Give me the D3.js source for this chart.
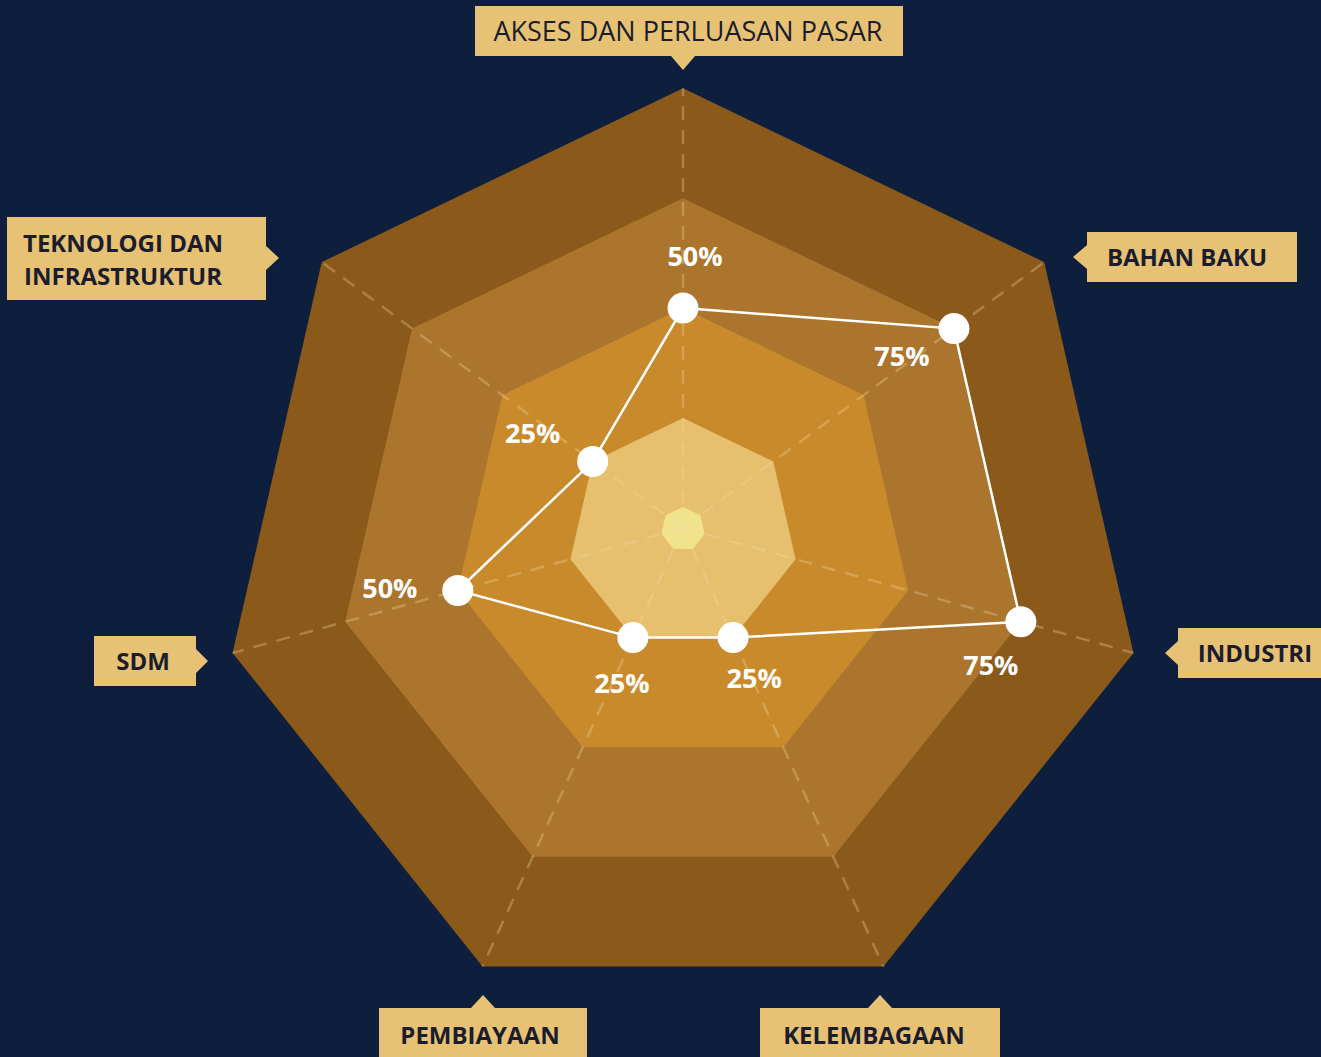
<!DOCTYPE html>
<html>
<head>
<meta charset="utf-8">
<script src="https://cdn.jsdelivr.net/npm/d3@7"></script>
<style>
  html, body { margin: 0; padding: 0; background: #0d1f3c; }
  svg { display: block; }
  .box-text { font-family: "Open Sans", sans-serif; fill: #1b1d2e; }
  .pct { font-family: "Open Sans", sans-serif; font-weight: 700; fill: #ffffff; }
</style>
</head>
<body>
<div id="radar"></div>
<script>

// data
var categories = ["AKSES DAN PERLUASAN PASAR", "BAHAN BAKU", "INDUSTRI", "KELEMBAGAAN",
                  "PEMBIAYAAN", "SDM", "TEKNOLOGI DAN INFRASTRUKTUR"];
var values = [0.50, 0.75, 0.75, 0.25, 0.25, 0.50, 0.25];
var valueLabels = ["50%", "75%", "75%", "25%", "25%", "50%", "25%"];
var ringLevels = [1, 0.75, 0.5, 0.25, 0.048];

var width = 1321, height = 1057;
var cx = 683, cy = 528;
var tilt = 0.048;   // the rings sag a little towards the bottom

var ringColors = ["#8b5a1b", "#ab752e", "#c98a2c", "#e6bf6f", "#f0e38c"];

var svg = d3.select("#radar")
  .append("svg")
    .attr("width", width)
    .attr("height", height);

svg.append("rect")
  .attr("width", width)
  .attr("height", height)
  .attr("fill", "#0d1f3c");

// scales
var angle = d3.scaleLinear()
  .domain([0, categories.length])
  .range([-Math.PI / 2, 3 * Math.PI / 2]);

var r = d3.scaleLinear()
  .domain([0, 1])
  .range([0, 462]);

function project(i, v) {
  var a = angle(i), rr = r(v);
  return [cx + rr * Math.cos(a), cy + rr * Math.sin(a) + rr * tilt];
}

var line = d3.line();

// rings
svg.append("g").selectAll("path")
  .data(ringLevels)
  .enter().append("path")
    .attr("d", function(lv) {
      return line(categories.map(function(c, i) { return project(i, lv); })) + "Z";
    })
    .attr("fill", function(lv, i) { return ringColors[i]; });

// dashed axes
svg.append("g").selectAll("line")
  .data(categories)
  .enter().append("line")
    .attr("x1", function(c, i) { return project(i, 0)[0]; })
    .attr("y1", function(c, i) { return project(i, 0)[1]; })
    .attr("x2", function(c, i) { return project(i, 1)[0]; })
    .attr("y2", function(c, i) { return project(i, 1)[1]; })
    .attr("stroke", "#f6deaa")
    .attr("stroke-opacity", 0.3)
    .attr("stroke-width", 2.5)
    .attr("stroke-dasharray", "14,10");

// data shape
var pts = values.map(function(v, i) { return project(i, v); });

svg.append("path")
  .attr("d", line(pts) + "Z")
  .attr("fill", "none")
  .attr("stroke", "#ffffff")
  .attr("stroke-width", 2.5);

svg.append("g").selectAll("circle")
  .data(pts)
  .enter().append("circle")
    .attr("cx", function(d) { return d[0]; })
    .attr("cy", function(d) { return d[1]; })
    .attr("r", 15.5)
    .attr("fill", "#ffffff");

// value labels, baseline offset from their point
var labelOffsets = [[12, -42], [-52, 37], [-30, 53], [21, 50], [-11, 55], [-68, 8], [-60, -19]];

svg.append("g").selectAll("text")
  .data(pts)
  .enter().append("text")
    .attr("class", "pct")
    .attr("x", function(d, i) { return d[0] + labelOffsets[i][0]; })
    .attr("y", function(d, i) { return d[1] + labelOffsets[i][1]; })
    .attr("text-anchor", "middle")
    .style("font-size", "27px")
    .text(function(d, i) { return valueLabels[i]; });

// category boxes: x, y, w, h, pointer side, pointer pos, tip
var boxes = [
  {x: 475, y: 6, w: 428, h: 50, side: "bottom", p: 683, tip: 70, tx: 688, ty: [41], size: 27, weight: 400},
  {x: 1087, y: 232, w: 210, h: 50, side: "left", p: 257, tip: 1073, tx: 1187, ty: [266], size: 24, weight: 700},
  {x: 1178, y: 628, w: 160, h: 50, side: "left", p: 653, tip: 1165, tx: 1255, ty: [662], size: 24, weight: 700},
  {x: 760, y: 1008, w: 240, h: 60, side: "top", p: 880, tip: 995, tx: 874, ty: [1044], size: 24, weight: 700},
  {x: 379, y: 1008, w: 208, h: 60, side: "top", p: 483, tip: 995, tx: 480, ty: [1044], size: 24, weight: 700},
  {x: 94, y: 636, w: 102, h: 50, side: "right", p: 661, tip: 208, tx: 143, ty: [670], size: 24, weight: 700},
  {x: 7, y: 217, w: 259, h: 83, side: "right", p: 258, tip: 279, tx: 123, ty: [252, 285], size: 24, weight: 700}
];

function boxPath(b) {
  var x0 = b.x, y0 = b.y, x1 = b.x + b.w, y1 = b.y + b.h, n = 12;
  if (b.side == "bottom")
    return "M" + x0 + "," + y0 + "H" + x1 + "V" + y1 + "H" + (b.p + n) + "L" + b.p + "," + b.tip +
      "L" + (b.p - n) + "," + y1 + "H" + x0 + "Z";
  if (b.side == "top")
    return "M" + x0 + "," + y0 + "H" + (b.p - n) + "L" + b.p + "," + b.tip + "L" + (b.p + n) + "," + y0 +
      "H" + x1 + "V" + y1 + "H" + x0 + "Z";
  if (b.side == "left")
    return "M" + x0 + "," + y0 + "H" + x1 + "V" + y1 + "H" + x0 + "V" + (b.p + n) + "L" + b.tip + "," + b.p +
      "L" + x0 + "," + (b.p - n) + "Z";
  return "M" + x0 + "," + y0 + "H" + x1 + "V" + (b.p - n) + "L" + b.tip + "," + b.p + "L" + x1 + "," + (b.p + n) +
    "V" + y1 + "H" + x0 + "Z";
}

var labelG = svg.append("g");

boxes.forEach(function(b, i) {
  labelG.append("path")
    .attr("d", boxPath(b))
    .attr("fill", "#e8c274");

  var words = categories[i] == "TEKNOLOGI DAN INFRASTRUKTUR" ? ["TEKNOLOGI DAN", "INFRASTRUKTUR"] : [categories[i]];
  words.forEach(function(w, k) {
    labelG.append("text")
      .attr("class", "box-text")
      .attr("x", b.tx)
      .attr("y", b.ty[k])
      .attr("text-anchor", "middle")
      .style("font-size", b.size + "px")
      .style("font-weight", b.weight)
      .text(w);
  });
});
</script>
</body>
</html>
